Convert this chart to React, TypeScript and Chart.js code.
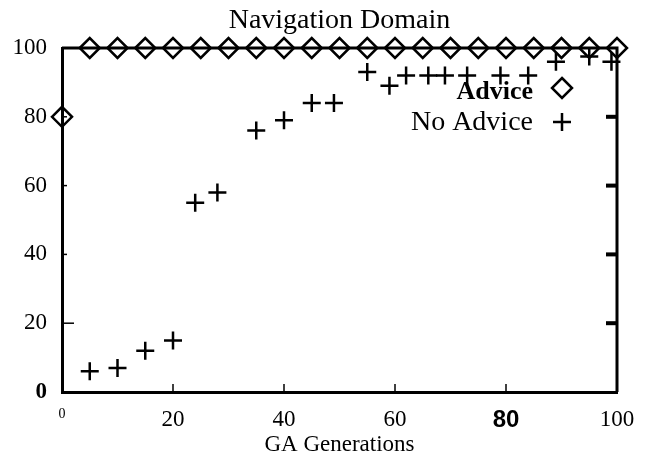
import { useEffect, useRef } from "react";
import { Chart, registerables } from "chart.js";

Chart.register(...registerables);

// Success rate (%) per GA generation
const adviceGen = [0, 5, 10, 15, 20, 25, 30, 35, 40, 45, 50, 55, 60, 65, 70, 75, 80, 85, 90, 95, 100];
const adviceRate = [80, 100, 100, 100, 100, 100, 100, 100, 100, 100, 100, 100, 100, 100, 100, 100, 100, 100, 100, 100, 100];

const noAdviceGen = [5, 10, 15, 20, 24, 28, 35, 40, 45, 49, 55, 59, 62, 66, 69, 73, 79, 84, 89, 95, 99];
const noAdviceRate = [6, 7, 12, 15, 55, 58, 76, 79, 84, 84, 93, 89, 92, 92, 92, 92, 92, 92, 96, 97.5, 96];

const xTicks = [0, 20, 40, 60, 80, 100];
const yTicks = [0, 20, 40, 60, 80, 100];
const innerTicks = [20, 40, 60, 80];

const SERIF = "'Liberation Serif', 'Times New Roman', serif";

const framePlugin = {
  id: "frame",
  afterDatasetsDraw(chart: Chart) {
    const { ctx, chartArea } = chart;
    const { left, right, top, bottom } = chartArea;
    const xs = chart.scales.x;
    const ys = chart.scales.y;
    ctx.save();
    ctx.strokeStyle = "#000";
    ctx.fillStyle = "#000";
    ctx.lineCap = "butt";

    // title centred over the plot box
    ctx.textAlign = "center";
    ctx.textBaseline = "middle";
    ctx.font = `28px ${SERIF}`;
    ctx.fillText("Navigation Domain", (left + right) / 2, 21);

    // top and right edges of the box
    ctx.lineWidth = 3;
    ctx.beginPath();
    ctx.moveTo(left, top);
    ctx.lineTo(right, top);
    ctx.lineTo(right, bottom);
    ctx.stroke();

    // inward tick marks
    innerTicks.forEach((v) => {
      const py = ys.getPixelForValue(v);
      ctx.fillRect(right - 11, py - 2, 10, 4);
      ctx.lineWidth = 1.5;
      ctx.beginPath();
      ctx.moveTo(left, py);
      ctx.lineTo(left + (v === 20 ? 12 : 5), py);
      ctx.stroke();
      const px = xs.getPixelForValue(v);
      ctx.beginPath();
      ctx.moveTo(px, bottom);
      ctx.lineTo(px, bottom - 8);
      ctx.stroke();
    });

    // legend, text right-aligned with marker to its right
    const mx = 562;
    ctx.textAlign = "right";
    ctx.font = `bold 26px ${SERIF}`;
    ctx.fillText("Advice", 533, 92);
    ctx.font = `28px ${SERIF}`;
    ctx.fillText("No Advice", 533, 123);

    ctx.lineWidth = 2.5;
    ctx.beginPath();
    ctx.moveTo(mx, 88 - 10);
    ctx.lineTo(mx + 10, 88);
    ctx.lineTo(mx, 88 + 10);
    ctx.lineTo(mx - 10, 88);
    ctx.closePath();
    ctx.stroke();

    ctx.beginPath();
    ctx.moveTo(mx - 9, 122);
    ctx.lineTo(mx + 9, 122);
    ctx.moveTo(mx, 122 - 9);
    ctx.lineTo(mx, 122 + 9);
    ctx.stroke();
    ctx.restore();
  },
};

export default function App() {
  const canvasRef = useRef<HTMLCanvasElement | null>(null);

  useEffect(() => {
    document.body.style.margin = "0";
    const canvas = canvasRef.current;
    if (!canvas) return;

    const chart = new Chart(canvas, {
      type: "scatter",
      data: {
        datasets: [
          {
            label: "Advice",
            data: adviceGen.map((g, i) => ({ x: g, y: adviceRate[i] })),
            pointStyle: "rectRot",
            radius: 10,
            borderWidth: 2.5,
            borderColor: "#000",
            backgroundColor: "rgba(0,0,0,0)",
            clip: false,
          },
          {
            label: "No Advice",
            data: noAdviceGen.map((g, i) => ({ x: g, y: noAdviceRate[i] })),
            pointStyle: "cross",
            radius: 9,
            borderWidth: 2.5,
            borderColor: "#000",
            backgroundColor: "#000",
            clip: false,
          },
        ],
      },
      options: {
        responsive: false,
        animation: false,
        devicePixelRatio: 1,
        layout: { padding: { top: 48, right: 34, left: 0, bottom: 0 } },
        plugins: {
          legend: { display: false },
          tooltip: { enabled: false },
          title: { display: false },
        },
        scales: {
          x: {
            type: "linear",
            min: 0,
            max: 100,
            afterBuildTicks: (s: any) => {
              s.ticks = xTicks.map((v) => ({ value: v }));
            },
            afterFit: (s: any) => {
              s.height = 72;
            },
            grid: { display: false, drawTicks: false },
            border: { display: true, color: "#000", width: 3 },
            ticks: {
              color: "#000",
              padding: 14,
              maxRotation: 0,
              autoSkip: false,
              font: (c: any) => {
                const v = c.tick ? c.tick.value : null;
                if (v === 0) return { family: SERIF, size: 14 };
                if (v === 80) return { family: "'Liberation Sans', Arial, sans-serif", size: 24, weight: "bold" };
                return { family: SERIF, size: 23 };
              },
            },
            title: {
              display: true,
              text: "GA Generations",
              color: "#000",
              font: { family: SERIF, size: 23 },
              padding: { top: 0, bottom: 5 },
            },
          },
          y: {
            type: "linear",
            min: 0,
            max: 100,
            afterBuildTicks: (s: any) => {
              s.ticks = yTicks.map((v) => ({ value: v }));
            },
            afterFit: (s: any) => {
              s.width = 62;
            },
            grid: { display: false, drawTicks: false },
            border: { display: true, color: "#000", width: 3 },
            ticks: {
              color: "#000",
              padding: 15,
              autoSkip: false,
              font: (c: any) => {
                const v = c.tick ? c.tick.value : null;
                if (v === 0) return { family: SERIF, size: 23, weight: "bold" };
                return { family: SERIF, size: 23 };
              },
            },
          },
        },
      },
      plugins: [framePlugin],
    });

    return () => chart.destroy();
  }, []);

  return (
    <div style={{ width: 651, height: 464 }}>
      <canvas ref={canvasRef} width={651} height={464} />
    </div>
  );
}
